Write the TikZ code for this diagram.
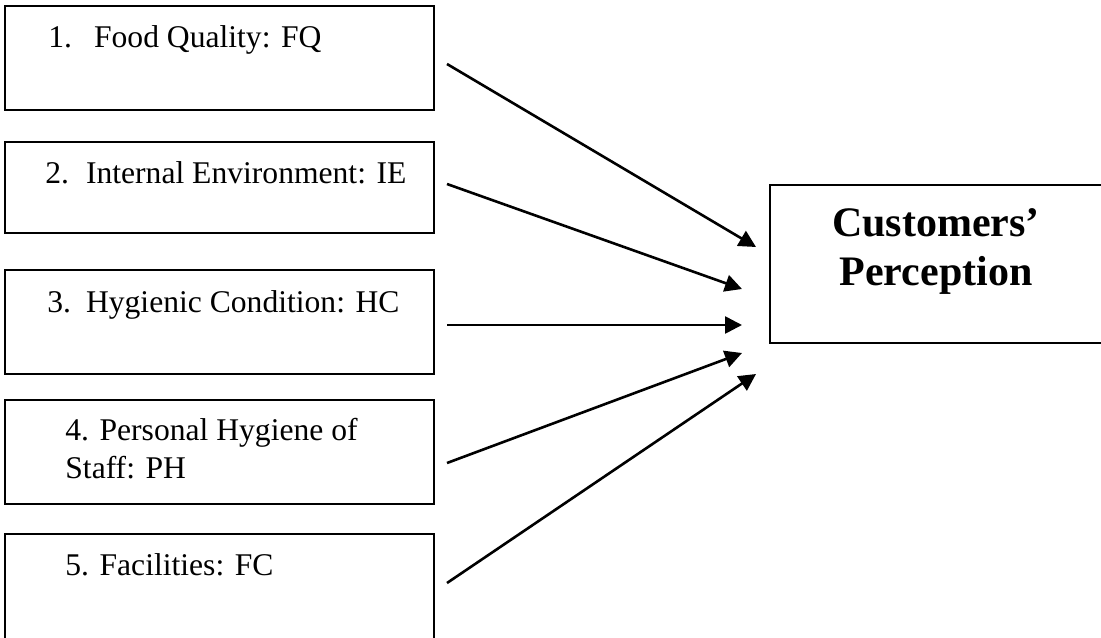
\documentclass[tikz,border=0pt]{standalone}
\usepackage{fontspec}
\setmainfont{Liberation Serif}
\usetikzlibrary{arrows.meta}

\tikzset{
  factor/.style={shape=rectangle,draw=black,line width=1pt,minimum width=214.5pt,minimum height=52pt,inner sep=0pt},
  factortext/.style={anchor=base west,inner sep=0pt,font=\fontsize{15.8}{19}\selectfont},
  outcome/.style={shape=rectangle,draw=black,line width=1pt,minimum width=170pt,minimum height=79pt,inner sep=0pt},
  outcometext/.style={inner sep=0pt,align=center,font=\fontsize{21}{24.5}\selectfont\bfseries},
  flow/.style={-{Triangle[length=8.5pt,width=8.5pt]},line width=1.3pt}
}

\begin{document}
\begin{tikzpicture}[x=0.5pt,y=-0.5pt]
        \useasboundingbox (0,0) rectangle (1101,637);
        \clip (0,0) rectangle (1101,637);

        % factor boxes and the outcome box
        \node[factor] (fq) at (219.5, 58)     {};
        \node[factor,minimum height=45.5pt] (ie) at (219.5, 187.5)     {};
        \node[factor] (hc) at (219.5, 322)     {};
        \node[factor] (ph) at (219.5, 452)     {};
        \node[factor,minimum height=54pt] (fc) at (219.5, 588)     {};
        \node[outcome] (cp) at (940, 264)     {};

        % labels
        \node[factortext] (fq-text) at (48, 47)     {1.\hspace*{11pt}Food Quality: FQ};
        \node[factortext] (ie-text) at (45, 183)     {2.\hspace*{8.5pt}Internal Environment: IE};
        \node[factortext] (hc-text) at (47, 312)     {3.\hspace*{7.5pt}Hygienic Condition: HC};
        \node[factortext,align=left] (ph-text) at (65, 478)     {4. Personal Hygiene of\\Staff: PH};
        \node[factortext] (fc-text) at (65, 575)     {5. Facilities: FC};
        \node[outcometext] (cp-text) at (936, 251)     {Customers’\\Perception};

        % arrow ends
        \coordinate (fq-out) at (447, 64);
        \coordinate (fq-in) at (756, 247);
        \coordinate (ie-out) at (447, 184);
        \coordinate (ie-in) at (742, 289);
        \coordinate (hc-out) at (447, 325);
        \coordinate (hc-in) at (742, 325);
        \coordinate (ph-out) at (447, 463);
        \coordinate (ph-in) at (742, 353);
        \coordinate (fc-out) at (447, 583);
        \coordinate (fc-in) at (756, 374);

	\path[flow] (fq-out) edge (fq-in);
	\path[flow] (ie-out) edge (ie-in);
	\path[flow] (hc-out) edge (hc-in);
	\path[flow] (ph-out) edge (ph-in);
	\path[flow] (fc-out) edge (fc-in);
\end{tikzpicture}
\end{document}
